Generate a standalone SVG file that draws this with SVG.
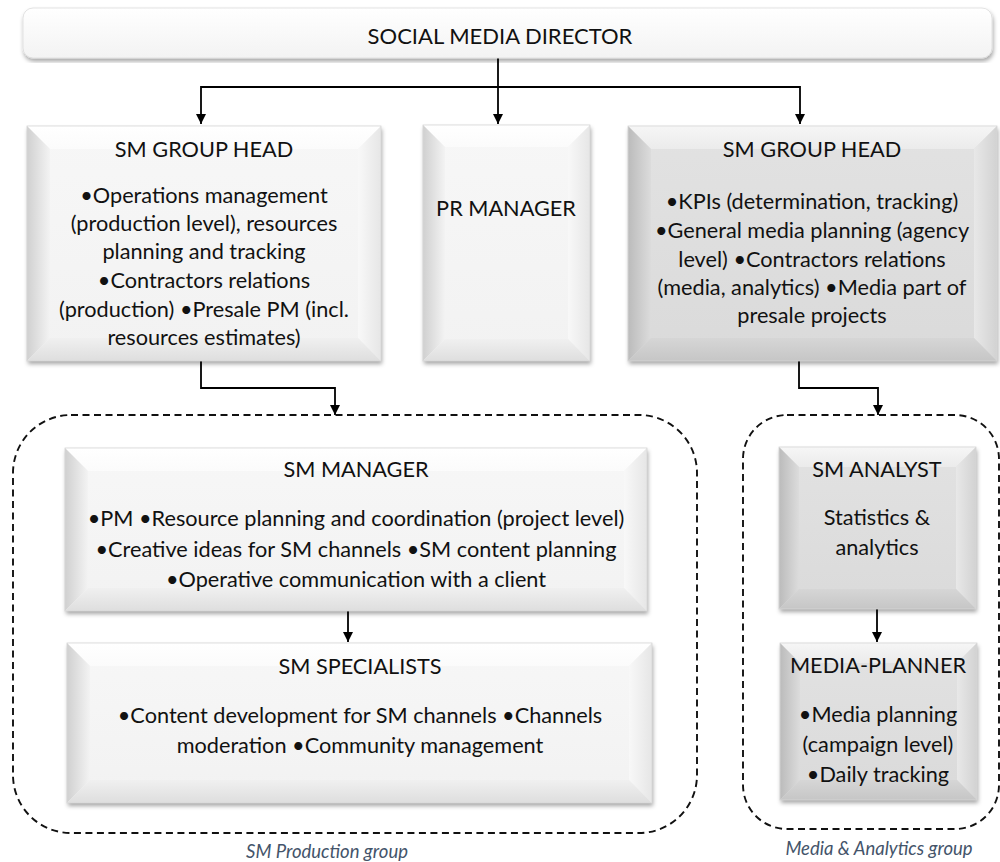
<svg xmlns="http://www.w3.org/2000/svg" width="1000" height="862" viewBox="0 0 1000 862">
<style>
  .t{font-family:Lato,'Open Sans','DejaVu Sans',sans-serif;font-size:21.7px;fill:#111;text-anchor:middle}
  .dir{font-size:22px}
  .grp{font-family:Lato,'Open Sans','DejaVu Sans',sans-serif;font-size:18.5px;font-style:italic;fill:#44546a;text-anchor:middle}
  .w-face{fill:url(#wFace)} .w-top{fill:url(#wTop)} .w-left{fill:url(#wLeft)} .w-right{fill:url(#wRight)} .w-bot{fill:url(#wBot)}
  .g-face{fill:url(#gFace)} .g-top{fill:url(#gTop)} .g-left{fill:url(#gLeft)} .g-right{fill:url(#gRight)} .g-bot{fill:url(#gBot)}
  .edge{fill:none;stroke:#d6d6d6;stroke-width:0.8}
  .conn{fill:none;stroke:#000;stroke-width:1.8}
  .dash{fill:none;stroke:#111;stroke-width:1.9;stroke-dasharray:7 4.5}
</style>
<defs>
  <filter id="sh" x="-5%" y="-5%" width="112%" height="115%">
    <feDropShadow dx="1" dy="3" stdDeviation="2" flood-color="#000" flood-opacity="0.35"/>
  </filter>
  <linearGradient id="dirFill" x1="0" y1="0" x2="0" y2="1"><stop offset="0" stop-color="#ffffff"/><stop offset="1" stop-color="#f3f3f3"/></linearGradient>
  <linearGradient id="wFace" x1="0" y1="0" x2="0" y2="1"><stop offset="0" stop-color="#f7f7f7"/><stop offset="1" stop-color="#f2f2f2"/></linearGradient>
  <linearGradient id="wTop" x1="0" y1="0" x2="0" y2="1"><stop offset="0" stop-color="#ffffff"/><stop offset="1" stop-color="#fbfbfb"/></linearGradient>
  <linearGradient id="wLeft" x1="0" y1="0" x2="1" y2="0"><stop offset="0" stop-color="#d0d0d0"/><stop offset="1" stop-color="#f3f3f3"/></linearGradient>
  <linearGradient id="wRight" x1="0" y1="0" x2="1" y2="0"><stop offset="0" stop-color="#f8f8f8"/><stop offset="1" stop-color="#e6e6e6"/></linearGradient>
  <linearGradient id="wBot" x1="0" y1="0" x2="0" y2="1"><stop offset="0" stop-color="#f0f0f0"/><stop offset="1" stop-color="#dedede"/></linearGradient>
  <linearGradient id="gFace" x1="0" y1="0" x2="0" y2="1"><stop offset="0" stop-color="#e2e2e2"/><stop offset="1" stop-color="#dadada"/></linearGradient>
  <linearGradient id="gTop" x1="0" y1="0" x2="0" y2="1"><stop offset="0" stop-color="#f6f6f6"/><stop offset="1" stop-color="#ebebeb"/></linearGradient>
  <linearGradient id="gLeft" x1="0" y1="0" x2="1" y2="0"><stop offset="0" stop-color="#bbbbbb"/><stop offset="1" stop-color="#dcdcdc"/></linearGradient>
  <linearGradient id="gRight" x1="0" y1="0" x2="1" y2="0"><stop offset="0" stop-color="#e8e8e8"/><stop offset="1" stop-color="#d2d2d2"/></linearGradient>
  <linearGradient id="gBot" x1="0" y1="0" x2="0" y2="1"><stop offset="0" stop-color="#d6d6d6"/><stop offset="1" stop-color="#c6c6c6"/></linearGradient>
  <marker id="arr" viewBox="0 0 10 10" refX="10" refY="5" markerWidth="10" markerHeight="10" markerUnits="userSpaceOnUse" orient="auto">
    <path d="M0,0 L10,5 L0,10 z" fill="#000"/>
  </marker>
</defs>

<rect width="1000" height="862" fill="#ffffff"/>

<!-- group outlines -->
<g id="group-production">
  <rect class="dash" x="13" y="415" width="684" height="418" rx="58" ry="58"/>
  <text class="grp" x="327" y="858">SM Production group</text>
</g>
<g id="group-media">
  <rect class="dash" x="743" y="415" width="256" height="414" rx="44" ry="44"/>
  <text class="grp" x="879" y="855">Media &amp; Analytics group</text>
</g>

<!-- connectors -->
<g id="connectors">
  <path class="conn" d="M498,58 V124" marker-end="url(#arr)"/>
  <path class="conn" d="M498,87 H201 V124" marker-end="url(#arr)"/>
  <path class="conn" d="M498,87 H800 V124" marker-end="url(#arr)"/>
  <path class="conn" d="M201,361 V388 H335 V415" marker-end="url(#arr)"/>
  <path class="conn" d="M799,361 V388 H878 V415" marker-end="url(#arr)"/>
  <path class="conn" d="M348,611 V642" marker-end="url(#arr)"/>
  <path class="conn" d="M877,609 V642" marker-end="url(#arr)"/>
</g>

<!-- Director -->
<g id="social-media-director">
  <rect x="23" y="8" width="969" height="50" rx="10" ry="10" fill="url(#dirFill)" stroke="#dcdcdc" stroke-width="0.8" filter="url(#sh)"/>
  <text class="t dir" x="500" y="44">SOCIAL MEDIA DIRECTOR</text>
</g>

<!-- Left SM Group Head -->
<g id="sm-group-head-production">
  <rect x="27" y="126" width="354" height="235" fill="#f2f2f2" filter="url(#sh)"/>
  <rect class="w-face" x="27" y="126" width="354" height="235"/>
  <polygon class="w-top" points="27,126 381,126 358,149 50,149"/>
  <polygon class="w-left" points="27,126 50,149 50,338 27,361"/>
  <polygon class="w-right" points="381,126 381,361 358,338 358,149"/>
  <polygon class="w-bot" points="27,361 381,361 358,338 50,338"/>
  <rect class="edge" x="27" y="126" width="354" height="235"/>
  <text class="t" x="204" y="157">SM GROUP HEAD</text>
  <text class="t" x="204" y="203">•Operations management</text>
  <text class="t" x="204" y="231">(production level), resources</text>
  <text class="t" x="204" y="259">planning and tracking</text>
  <text class="t" x="204" y="288">•Contractors relations</text>
  <text class="t" x="204" y="317">(production) •Presale PM (incl.</text>
  <text class="t" x="204" y="345">resources estimates)</text>
</g>

<!-- PR Manager -->
<g id="pr-manager">
  <rect x="423" y="125" width="167" height="236" fill="#f2f2f2" filter="url(#sh)"/>
  <rect class="w-face" x="423" y="125" width="167" height="236"/>
  <polygon class="w-top" points="423,125 590,125 568,147 445,147"/>
  <polygon class="w-left" points="423,125 445,147 445,339 423,361"/>
  <polygon class="w-right" points="590,125 590,361 568,339 568,147"/>
  <polygon class="w-bot" points="423,361 590,361 568,339 445,339"/>
  <rect class="edge" x="423" y="125" width="167" height="236"/>
  <text class="t" x="506" y="216">PR MANAGER</text>
</g>

<!-- Right SM Group Head (gray) -->
<g id="sm-group-head-media">
  <rect x="628" y="126" width="369" height="235" fill="#dcdcdc" filter="url(#sh)"/>
  <rect class="g-face" x="628" y="126" width="369" height="235"/>
  <polygon class="g-top" points="628,126 997,126 974,149 651,149"/>
  <polygon class="g-left" points="628,126 651,149 651,338 628,361"/>
  <polygon class="g-right" points="997,126 997,361 974,338 974,149"/>
  <polygon class="g-bot" points="628,361 997,361 974,338 651,338"/>
  <rect class="edge" x="628" y="126" width="369" height="235"/>
  <text class="t" x="812" y="157">SM GROUP HEAD</text>
  <text class="t" x="812" y="209">•KPIs (determination, tracking)</text>
  <text class="t" x="812" y="238">•General media planning (agency</text>
  <text class="t" x="812" y="267">level) •Contractors relations</text>
  <text class="t" x="812" y="295">(media, analytics) •Media part of</text>
  <text class="t" x="812" y="323">presale projects</text>
</g>

<!-- SM Manager -->
<g id="sm-manager">
  <rect x="65" y="448" width="582" height="163" fill="#f2f2f2" filter="url(#sh)"/>
  <rect class="w-face" x="65" y="448" width="582" height="163"/>
  <polygon class="w-top" points="65,448 647,448 624,471 88,471"/>
  <polygon class="w-left" points="65,448 88,471 88,588 65,611"/>
  <polygon class="w-right" points="647,448 647,611 624,588 624,471"/>
  <polygon class="w-bot" points="65,611 647,611 624,588 88,588"/>
  <rect class="edge" x="65" y="448" width="582" height="163"/>
  <text class="t" x="356" y="477">SM MANAGER</text>
  <text class="t" x="356" y="526">•PM •Resource planning and coordination (project level)</text>
  <text class="t" x="356" y="557">•Creative ideas for SM channels •SM content planning</text>
  <text class="t" x="356" y="587">•Operative communication with a client</text>
</g>

<!-- SM Specialists -->
<g id="sm-specialists">
  <rect x="67" y="643" width="585" height="160" fill="#f2f2f2" filter="url(#sh)"/>
  <rect class="w-face" x="67" y="643" width="585" height="160"/>
  <polygon class="w-top" points="67,643 652,643 629,666 90,666"/>
  <polygon class="w-left" points="67,643 90,666 90,780 67,803"/>
  <polygon class="w-right" points="652,643 652,803 629,780 629,666"/>
  <polygon class="w-bot" points="67,803 652,803 629,780 90,780"/>
  <rect class="edge" x="67" y="643" width="585" height="160"/>
  <text class="t" x="360" y="674">SM SPECIALISTS</text>
  <text class="t" x="360" y="723">•Content development for SM channels •Channels</text>
  <text class="t" x="360" y="753">moderation •Community management</text>
</g>

<!-- SM Analyst (gray) -->
<g id="sm-analyst">
  <rect x="779" y="447" width="197" height="162" fill="#dcdcdc" filter="url(#sh)"/>
  <rect class="g-face" x="779" y="447" width="197" height="162"/>
  <polygon class="g-top" points="779,447 976,447 956,467 799,467"/>
  <polygon class="g-left" points="779,447 799,467 799,589 779,609"/>
  <polygon class="g-right" points="976,447 976,609 956,589 956,467"/>
  <polygon class="g-bot" points="779,609 976,609 956,589 799,589"/>
  <rect class="edge" x="779" y="447" width="197" height="162"/>
  <text class="t" x="877" y="477">SM ANALYST</text>
  <text class="t" x="877" y="525">Statistics &amp;</text>
  <text class="t" x="877" y="555">analytics</text>
</g>

<!-- Media Planner (gray) -->
<g id="media-planner">
  <rect x="780" y="643" width="197" height="157" fill="#dcdcdc" filter="url(#sh)"/>
  <rect class="g-face" x="780" y="643" width="197" height="157"/>
  <polygon class="g-top" points="780,643 977,643 957,663 800,663"/>
  <polygon class="g-left" points="780,643 800,663 800,780 780,800"/>
  <polygon class="g-right" points="977,643 977,800 957,780 957,663"/>
  <polygon class="g-bot" points="780,800 977,800 957,780 800,780"/>
  <rect class="edge" x="780" y="643" width="197" height="157"/>
  <text class="t" x="878" y="673">MEDIA-PLANNER</text>
  <text class="t" x="878" y="722">•Media planning</text>
  <text class="t" x="878" y="752">(campaign level)</text>
  <text class="t" x="878" y="782">•Daily tracking</text>
</g>
</svg>
